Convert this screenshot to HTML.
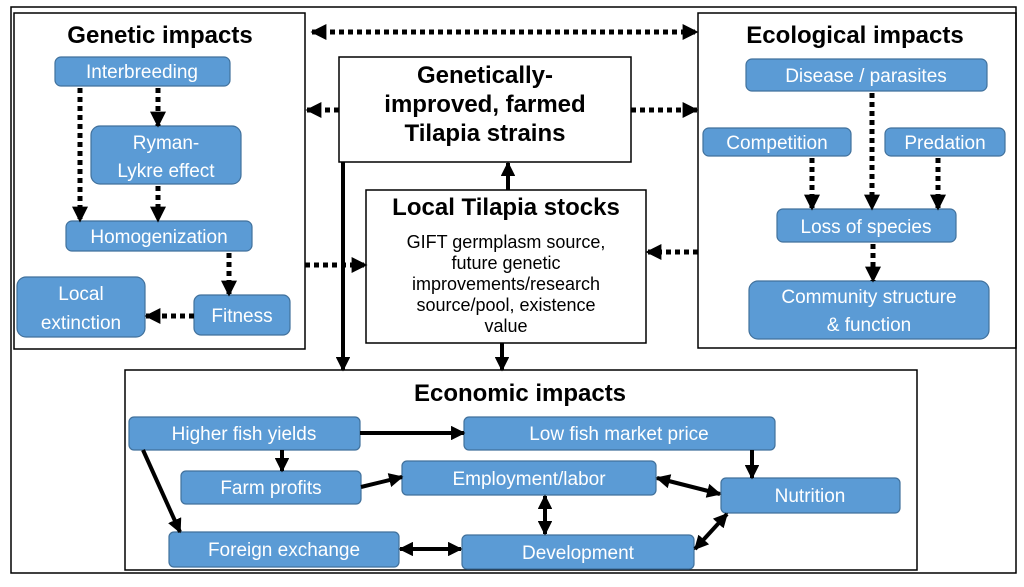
<!DOCTYPE html>
<html><head><meta charset="utf-8"><style>
html,body{margin:0;padding:0;background:#fff}
svg{display:block}
text{font-family:"Liberation Sans",sans-serif}
.b{fill:#5b9bd5;stroke:#41719c;stroke-width:1.2}
.t{fill:#fff;font-size:19px;text-anchor:middle}
.h{fill:#000;font-size:24px;font-weight:bold;text-anchor:middle}
.d{stroke:#000;stroke-width:5;stroke-dasharray:5 4;fill:none}
.s{stroke:#000;stroke-width:4;fill:none}
.f{fill:none;stroke:#000;stroke-width:1.5}
</style></head><body>
<svg width="1024" height="587" viewBox="0 0 1024 587" xmlns="http://www.w3.org/2000/svg">
<defs>
<marker id="a" viewBox="0 0 10 10" refX="9" refY="5" markerWidth="3.2" markerHeight="3.2" orient="auto-start-reverse"><path d="M0,0L10,5L0,10z" fill="#000"/></marker>
<marker id="m" viewBox="0 0 10 10" refX="9" refY="5" markerWidth="3.6" markerHeight="3.6" orient="auto-start-reverse"><path d="M0,0L10,5L0,10z" fill="#000"/></marker>
</defs>
<rect x="11" y="7" width="1005" height="566" class="f" stroke-width="1"/>
<!-- Genetic -->
<rect x="14" y="13" width="291" height="336" class="f"/>
<text x="160" y="43" class="h" font-size="26">Genetic impacts</text>
<rect x="55" y="57" width="175" height="29" rx="6" class="b"/><text x="142" y="78" class="t">Interbreeding</text>
<rect x="91" y="126" width="150" height="58" rx="9" class="b"/><text x="166" y="149" class="t">Ryman-</text><text x="166" y="177" class="t">Lykre effect</text>
<rect x="66" y="221" width="186" height="30" rx="6" class="b"/><text x="159" y="243" class="t">Homogenization</text>
<rect x="194" y="295" width="96" height="40" rx="7" class="b"/><text x="242" y="322" class="t">Fitness</text>
<rect x="17" y="277" width="128" height="60" rx="9" class="b"/><text x="81" y="300" class="t">Local</text><text x="81" y="329" class="t">extinction</text>
<!-- GE box -->
<rect x="339" y="57" width="292" height="105" class="f"/>
<text x="485" y="83" class="h">Genetically-</text>
<text x="485" y="112" class="h">improved, farmed</text>
<text x="485" y="141" class="h">Tilapia strains</text>
<!-- Local stocks -->
<rect x="366" y="190" width="280" height="153" class="f"/>
<text x="506" y="215" class="h">Local Tilapia stocks</text>
<g font-size="18" text-anchor="middle" fill="#000">
<text x="506" y="248">GIFT germplasm source,</text>
<text x="506" y="269">future genetic</text>
<text x="506" y="290">improvements/research</text>
<text x="506" y="311">source/pool, existence</text>
<text x="506" y="332">value</text>
</g>
<!-- Ecological -->
<rect x="698" y="13" width="318" height="335" class="f"/>
<text x="855" y="43" class="h" font-size="26">Ecological impacts</text>
<rect x="746" y="59" width="241" height="32" rx="6" class="b"/><text x="866" y="82" class="t">Disease / parasites</text>
<rect x="703" y="128" width="148" height="28" rx="6" class="b"/><text x="777" y="149" class="t">Competition</text>
<rect x="885" y="128" width="120" height="28" rx="6" class="b"/><text x="945" y="149" class="t">Predation</text>
<rect x="777" y="209" width="179" height="33" rx="6" class="b"/><text x="866" y="233" class="t">Loss of species</text>
<rect x="749" y="281" width="240" height="58" rx="9" class="b"/><text x="869" y="303" class="t">Community structure</text><text x="869" y="331" class="t">&amp; function</text>
<!-- Economic -->
<rect x="125" y="370" width="792" height="200" class="f"/>
<text x="520" y="401" class="h" font-size="26">Economic impacts</text>
<rect x="129" y="417" width="231" height="33" rx="5" class="b"/><text x="244" y="440" class="t">Higher fish yields</text>
<rect x="464" y="417" width="311" height="33" rx="5" class="b"/><text x="619" y="440" class="t">Low fish market price</text>
<rect x="181" y="471" width="180" height="33" rx="5" class="b"/><text x="271" y="494" class="t">Farm profits</text>
<rect x="402" y="461" width="254" height="34" rx="5" class="b"/><text x="529" y="485" class="t">Employment/labor</text>
<rect x="721" y="478" width="179" height="35" rx="5" class="b"/><text x="810" y="502" class="t">Nutrition</text>
<rect x="169" y="532" width="230" height="35" rx="5" class="b"/><text x="284" y="556" class="t">Foreign exchange</text>
<rect x="462" y="535" width="232" height="34" rx="5" class="b"/><text x="578" y="559" class="t">Development</text>
<!-- dashed arrows -->
<line x1="312" y1="32" x2="697" y2="32" class="d" marker-start="url(#a)" marker-end="url(#a)"/>
<line x1="339" y1="110" x2="307" y2="110" class="d" marker-end="url(#a)"/>
<line x1="631" y1="110" x2="697" y2="110" class="d" marker-end="url(#a)"/>
<line x1="305" y1="265" x2="366" y2="265" class="d" marker-end="url(#a)"/>
<line x1="698" y1="252" x2="647" y2="252" class="d" marker-end="url(#a)"/>
<line x1="80" y1="88" x2="80" y2="221" class="d" marker-end="url(#a)"/>
<line x1="158" y1="88" x2="158" y2="126" class="d" marker-end="url(#a)"/>
<line x1="158" y1="186" x2="158" y2="221" class="d" marker-end="url(#a)"/>
<line x1="229" y1="253" x2="229" y2="295" class="d" marker-end="url(#a)"/>
<line x1="194" y1="316" x2="146" y2="316" class="d" marker-end="url(#a)"/>
<line x1="872" y1="93" x2="872" y2="209" class="d" marker-end="url(#a)"/>
<line x1="812" y1="158" x2="812" y2="209" class="d" marker-end="url(#a)"/>
<line x1="938" y1="158" x2="938" y2="209" class="d" marker-end="url(#a)"/>
<line x1="873" y1="244" x2="873" y2="281" class="d" marker-end="url(#a)"/>
<!-- solid arrows -->
<line x1="508" y1="190" x2="508" y2="163" class="s" marker-end="url(#m)"/>
<line x1="343" y1="162" x2="343" y2="370" class="s" marker-end="url(#m)"/>
<line x1="502" y1="343" x2="502" y2="370" class="s" marker-end="url(#m)"/>
<line x1="360" y1="433" x2="464" y2="433" class="s" marker-end="url(#m)"/>
<line x1="282" y1="450" x2="282" y2="471" class="s" marker-end="url(#m)"/>
<line x1="143" y1="450" x2="180" y2="532" class="s" marker-end="url(#m)"/>
<line x1="361" y1="487" x2="402" y2="477" class="s" marker-end="url(#m)"/>
<line x1="752" y1="450" x2="752" y2="478" class="s" marker-end="url(#m)"/>
<line x1="657" y1="478" x2="720" y2="494" class="s" marker-start="url(#m)" marker-end="url(#m)"/>
<line x1="545" y1="496" x2="545" y2="534" class="s" marker-start="url(#m)" marker-end="url(#m)"/>
<line x1="400" y1="549" x2="461" y2="549" class="s" marker-start="url(#m)" marker-end="url(#m)"/>
<line x1="727" y1="514" x2="695" y2="549" class="s" marker-start="url(#m)" marker-end="url(#m)"/>
</svg>
</body></html>
